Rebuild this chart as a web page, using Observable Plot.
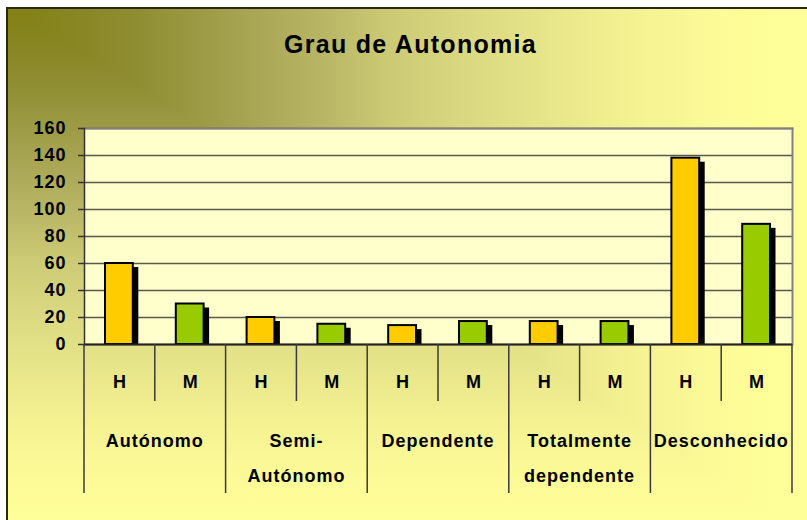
<!DOCTYPE html>
<html><head><meta charset="utf-8">
<script src="https://cdn.jsdelivr.net/npm/d3@7"></script>
<script src="https://cdn.jsdelivr.net/npm/@observablehq/plot@0.6"></script>
<style>
html,body{margin:0;padding:0;background:#fff;}
#wrap{position:relative;width:807px;height:520px;overflow:hidden;}
#bg{position:absolute;left:6px;top:7px;width:801px;height:513px;border-left:2px solid #2a2a14;border-top:2px solid #2a2a14;
background:
 linear-gradient(to right,#848218 20px,#8e8c30 122px,#9c9a44 192px,#acaa58 262px,#bab866 322px,#ccca74 382px,#e0de85 492px,#f2f090 612px,#fbf996 692px,#ffff99 772px),
 linear-gradient(to bottom,#848218 11px,#8e8c30 71px,#9c9a44 116px,#acaa58 166px,#bab866 206px,#ccca74 251px,#e0de85 326px,#f2f090 406px,#fbf996 456px,#ffff99 511px);
background-blend-mode:lighten;}
#title{position:absolute;top:32px;left:0;width:821px;text-align:center;font:bold 25px "Liberation Sans",Arial,sans-serif;letter-spacing:1.3px;line-height:25px;color:#000;}
#chart{position:absolute;left:0;top:0;}
</style></head>
<body>
<div id="wrap"><div id="bg"></div><div id="chart"></div><div id="title">Grau de Autonomia</div></div>
<script>
const groups = ["Autónomo", "Semi-\nAutónomo", "Dependente", "Totalmente\ndependente", "Desconhecido"];
const sexes = ["H", "M"];
const valuesH = [60, 20, 14, 17, 138];
const valuesM = [30, 15, 17, 17, 89];
const yTicks = [0, 20, 40, 60, 80, 100, 120, 140, 160];
const colors = {H: "#FFCC00", M: "#99CC00"};

const rows = groups.flatMap((g, i) => [
  {group: g, sex: "H", key: i + "H", value: valuesH[i]},
  {group: g, sex: "M", key: i + "M", value: valuesM[i]}
]);
const keys = rows.map(d => d.key);

const chart = Plot.plot({
  width: 807, height: 520,
  marginLeft: 84, marginRight: 15, marginTop: 128, marginBottom: 176,
  style: {fontFamily: "'Liberation Sans', Arial, sans-serif", fontSize: "18px", fontWeight: "bold", letterSpacing: "1px", background: "transparent", color: "#000", overflow: "visible"},
  x: {type: "band", domain: keys, paddingInner: 0, paddingOuter: 0, round: false, axis: null},
  y: {domain: [0, 160], axis: null},
  marks: [
    Plot.frame({fill: "#FFFFCC", stroke: null}),
    Plot.gridY(yTicks, {stroke: "#5a5a4a", strokeOpacity: 1, strokeWidth: 1.5}),
    Plot.frame({anchor: "top", stroke: "#808080", strokeWidth: 2}),
    Plot.frame({anchor: "right", stroke: "#808080", strokeWidth: 2}),
    Plot.barY(rows, {x: "key", y: "value", fill: "#000", insetLeft: 21, insetRight: 22, dx: 5.5, dy: 4, clip: true}),
    Plot.barY(rows, {x: "key", y: "value", fill: d => colors[d.sex], stroke: "#000", strokeWidth: 2, insetLeft: 21, insetRight: 22}),
    Plot.ruleY([0], {stroke: "#222", strokeWidth: 2}),
    Plot.frame({anchor: "left", stroke: "#333", strokeWidth: 1.5}),
    Plot.axisY({ticks: yTicks, tickSize: 6, tickPadding: 12, label: null, stroke: "#333", strokeWidth: 1.5}),
    Plot.text(rows, {x: "key", text: "sex", frameAnchor: "bottom", dy: 38, lineAnchor: "middle", fill: "#000"})
  ]
});
document.getElementById("chart").appendChild(chart);

const xs = chart.scale("x");
const ys = chart.scale("y");
const y0 = ys.apply(0);
const svg = d3.select(chart);
const g = svg.append("g").attr("stroke", "#3a3a3a").attr("stroke-width", 1.5);
keys.forEach((k, i) => {
  const x = xs.apply(k);
  g.append("line").attr("x1", x).attr("x2", x).attr("y1", y0).attr("y2", y0 + (i % 2 === 0 ? 149 : 57));
});
const xEnd = xs.apply(keys[keys.length - 1]) + xs.bandwidth;
g.append("line").attr("x1", xEnd).attr("x2", xEnd).attr("y1", y0).attr("y2", y0 + 149);

const t = svg.append("g").attr("text-anchor", "middle").attr("fill", "#000");
groups.forEach((name, i) => {
  const cx = xs.apply(keys[2 * i]) + xs.bandwidth;
  const text = t.append("text").attr("x", cx).attr("y", y0 + 102.5);
  name.split("\n").forEach((line, j) => {
    text.append("tspan").attr("x", cx).attr("dy", j === 0 ? 0 : 35).text(line);
  });
});
</script>
</body></html>
